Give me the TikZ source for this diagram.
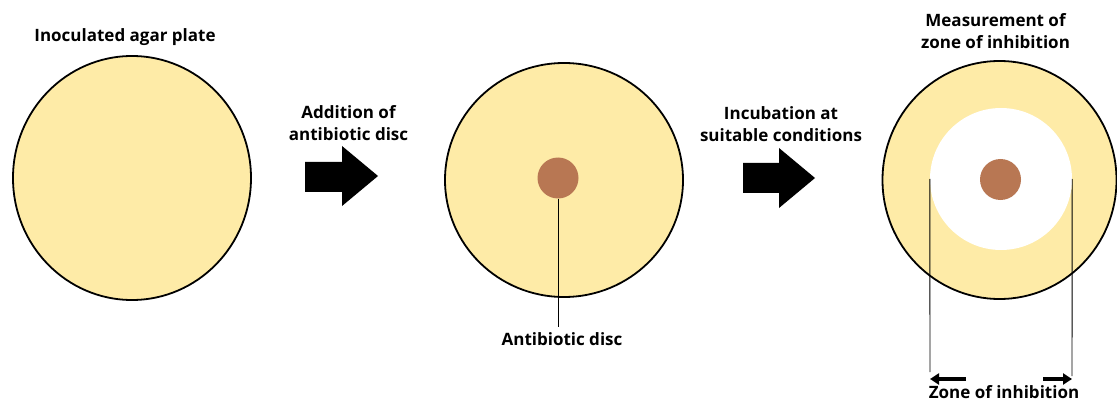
\documentclass[tikz,border=0pt]{standalone}
\usepackage{fontspec}
\setmainfont{Open Sans}
\usepackage{xcolor}
\usetikzlibrary{arrows.meta, positioning, shapes.geometric}
\definecolor{agar}{RGB}{254,235,167}
\definecolor{discbrown}{RGB}{184,119,83}

\begin{document}
\begin{tikzpicture}[
        x=1pt,
        y=-1pt,
        plate/.style={ellipse,draw,line width=1.8pt,fill=agar,inner sep=0pt},
        disc/.style={circle,fill=discbrown,minimum size=41pt,inner sep=0pt},
        label/.style={font=\fontsize{17}{22}\selectfont\bfseries,align=center,inner sep=0pt},
        leader/.style={line width=0.9pt},
        zonearrow/.style={-{Triangle[length=9pt,width=11pt]},line width=4.5pt},
        blockarrow/.style={fill=black}
    ]
        \useasboundingbox (0,0) rectangle (1117,401);
        % plates
        \node[plate,minimum width=238pt,minimum height=244pt] (plate1) at (132,178) {};
        \node[plate,minimum width=238pt,minimum height=234pt] (plate2) at (564,180) {};
        \node[plate,minimum width=234pt,minimum height=238pt] (plate3) at (999.5,180) {};
        \node[circle,fill=white,minimum size=142pt,inner sep=0pt] (clear) at (1001,179) {};
        \node[disc] (disc2) at (558,178) {};
        \node[disc] (disc3) at (1000.5,179.5) {};
        % block arrows
        \fill[blockarrow] (305,162) -- (342,162) -- (342,146) -- (378,176)
            -- (342,206) -- (342,192) -- (305,192) -- cycle;
        \fill[blockarrow] (743,163) -- (779,163) -- (779,148) -- (815,178)
            -- (779,208) -- (779,193) -- (743,193) -- cycle;
        % labels
        \node[label,anchor=base] (lplate) at (125,42) {Inoculated agar plate};
        \node[label] (ladd) at (348.5,123.5) {Addition of\\antibiotic disc};
        \node[label] (linc) at (781,124) {Incubation at\\suitable conditions};
        \node[label] (lmeas) at (995.5,31.5) {Measurement of\\zone of inhibition};
        \node[label,anchor=base,inner sep=5pt] (ldisc) at (562,345) {Antibiotic disc};
        \node[label,anchor=base] (lzone) at (1004,398) {Zone of inhibition};
        % leader lines
        \draw[leader] (disc2.south) -- (disc2.south |- ldisc.north);
        \coordinate (zleft) at (930,372);
        \coordinate (zright) at (1072,376);
        \draw[leader] (clear.west) -- (zleft);
        \draw[leader] (clear.east) -- (zright);
        \coordinate (aleft) at (966,379);
        \coordinate (aright) at (1043,379);
        \draw[zonearrow] (aleft) -- (aleft -| zleft);
        \draw[zonearrow] (aright) -- (aright -| zright);
    \end{tikzpicture}
\end{document}
